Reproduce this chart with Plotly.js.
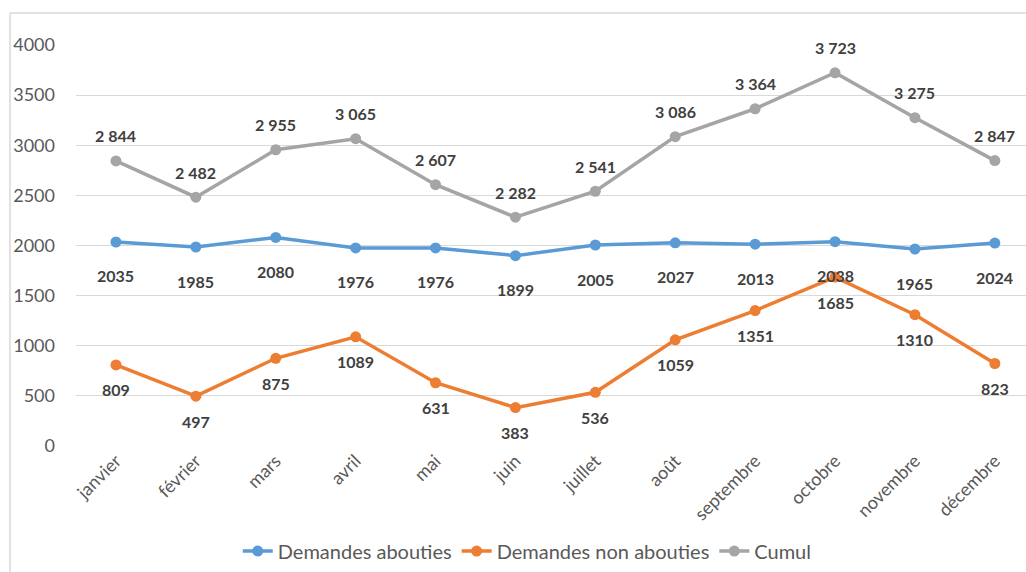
<!DOCTYPE html>
<html><head><meta charset="utf-8">
<script src="https://cdn.plot.ly/plotly-3.0.1.min.js"></script>
<style>body{margin:0;background:#fff}#c{width:1026px;height:572px}</style>
</head><body><div id="c"></div>
<script>
const months = ["janvier","février","mars","avril","mai","juin","juillet","août","septembre","octobre","novembre","décembre"];
const abouties = [2035,1985,2080,1976,1976,1899,2005,2027,2013,2038,1965,2024];
const nonAbouties = [809,497,875,1089,631,383,536,1059,1351,1685,1310,823];
const cumul = [2844,2482,2955,3065,2607,2282,2541,3086,3364,3723,3275,2847];
const yTicks = [0,500,1000,1500,2000,2500,3000,3500,4000];

const colors = {ab:"#5B9BD5", non:"#ED7D31", cum:"#A5A5A5"};
const fmtSpace = v => String(v).replace(/\B(?=(\d{3})+(?!\d))/g, " ");

function tr(name, ys, color){
  return {x: months, y: ys, name: name, type: "scatter", mode: "lines+markers",
    line: {color: color, width: 3.5}, marker: {color: color, size: 11}, hoverinfo: "skip"};
}
const data = [tr("Demandes abouties", abouties, colors.ab),
              tr("Demandes non abouties", nonAbouties, colors.non),
              tr("Cumul", cumul, colors.cum)];

const lblFont = {family: "Lato, 'Liberation Sans', sans-serif", size: 16, color: "#404040", weight: "bold"};
const annotations = [];
months.forEach((m,i)=>{
  annotations.push({x: m, y: cumul[i], text: fmtSpace(cumul[i]), showarrow: false, yshift: 25, font: lblFont});
  annotations.push({x: m, y: abouties[i], text: String(abouties[i]), showarrow: false, yshift: -34, font: lblFont});
  annotations.push({x: m, y: nonAbouties[i], text: String(nonAbouties[i]), showarrow: false, yshift: -25, font: lblFont});
});

const layout = {
  width: 1026, height: 572,
  margin: {l: 76, r: 0, t: 45, b: 126},
  paper_bgcolor: "#fff", plot_bgcolor: "#fff",
  font: {family: "Lato, 'Liberation Sans', sans-serif", color: "#595959", size: 17},
  showlegend: true,
  legend: {orientation: "h", x: 0.475, xanchor: "center", y: -0.262, yanchor: "middle",
    font: {size: 20, color: "#595959"}, tracegroupgap: 0},
  xaxis: {type: "category", range: [-0.5, 11.39], tickangle: -45, showgrid: false,
    showline: false, zeroline: false, ticks: "", tickfont: {size: 18, color: "#595959"}},
  yaxis: {range: [0, 4000], tickvals: yTicks, ticktext: yTicks.map(String), showgrid: true,
    gridcolor: "#D9D9D9", gridwidth: 1, zeroline: false, showline: false, ticks: "",
    ticklabelstandoff: 20, tickfont: {size: 18, color: "#595959"}},
  annotations: annotations,
  shapes: [
    {type: "line", xref: "paper", yref: "paper", x0: -0.0695, x1: -0.0695, y0: 1.08, y1: -0.32, line: {color: "#D9D9D9", width: 1.5}},
    {type: "line", xref: "paper", yref: "paper", x0: -0.0695, x1: 1.0, y0: 1.08, y1: 1.08, line: {color: "#D9D9D9", width: 1.5}}
  ]
};
Plotly.newPlot("c", data, layout, {displayModeBar: false, staticPlot: true});
</script></body></html>
